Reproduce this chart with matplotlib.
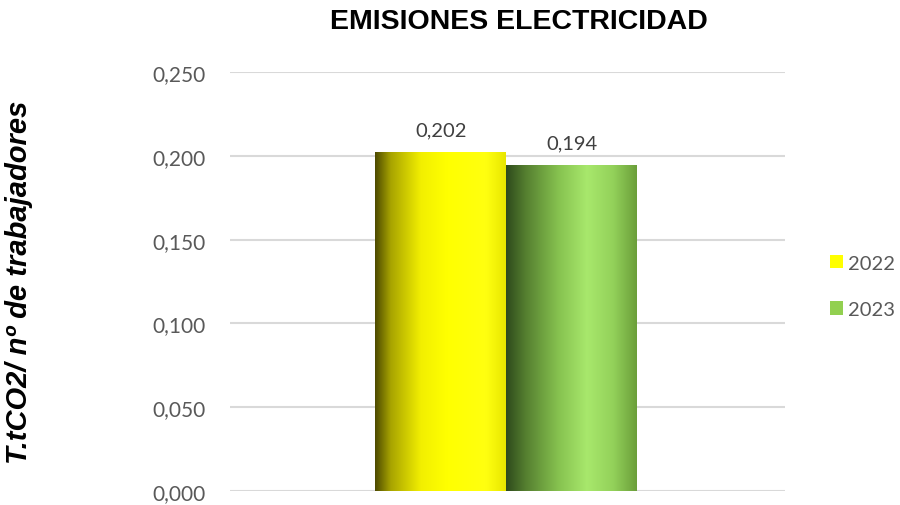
import matplotlib

matplotlib.use("Agg")
import matplotlib.pyplot as plt
import numpy as np
from matplotlib.colors import LinearSegmentedColormap
from matplotlib.patches import Patch

years = ["2022", "2023"]
values = [0.202, 0.194]
value_labels = ["0,202", "0,194"]
yticks = [0.0, 0.05, 0.10, 0.15, 0.20, 0.25]
ytick_labels = ["0,000", "0,050", "0,100", "0,150", "0,200", "0,250"]

GRADIENTS = {
    "2022": [(0.0, "#4d4a00"), (0.12, "#a8a400"), (0.35, "#f2ef00"), (0.55, "#ffff00"),
             (0.85, "#ffff10"), (1.0, "#e8e600")],
    "2023": [(0.0, "#2e4a1c"), (0.15, "#557f30"), (0.4, "#86c24f"), (0.62, "#a8e86c"),
             (0.82, "#93d15a"), (1.0, "#6b9f3a")],
}
LEGEND_COLORS = {"2022": "#ffff00", "2023": "#92d050"}

plt.rcParams.update({"font.family": ["Lato", "DejaVu Sans"]})

fig = plt.figure(figsize=(9, 5.06), dpi=100)
ax = fig.add_axes([0.2556, 0.0277, 0.6167, 0.828])

width = 0.472
offsets = [-width / 2 - 0.005, width / 2 - 0.005]
for year, val, lab, off in zip(years, values, value_labels, offsets):
    bar = ax.bar(off, val, width=width, color="none", zorder=3)[0]
    x0, y0 = bar.get_x(), bar.get_y()
    x1, y1 = x0 + bar.get_width(), y0 + bar.get_height()
    cmap = LinearSegmentedColormap.from_list(year, GRADIENTS[year])
    grad = np.linspace(0, 1, 256).reshape(1, -1)
    ax.imshow(grad, cmap=cmap, extent=[x0, x1, y0, y1], aspect="auto", zorder=3)
    ax.text(off, val + 0.0085, lab, ha="center", va="bottom", fontsize=14.5,
            color="#404040", zorder=4)

ax.set_xlim(-1, 1)
ax.set_ylim(0, 0.25)
ax.set_yticks(yticks)
ax.set_yticklabels(ytick_labels)
ax.set_xticks([])
ax.tick_params(axis="y", length=0, labelsize=15, labelcolor="#595959", pad=17.5)
ax.grid(axis="y", color="#d9d9d9", linewidth=1.5, zorder=0)
for s in ax.spines.values():
    s.set_visible(False)

fig.text(0.577, 0.957, "EMISIONES ELECTRICIDAD", ha="center", va="center",
         fontsize=20.5, fontweight="bold", color="#000000", family="Liberation Sans")
fig.text(0.021, 0.443, "T.tCO2/ nº de trabajadores", rotation=90, ha="center",
         va="center", fontsize=21, fontweight="bold", style="italic", color="#000000",
         family="Liberation Sans")

handles = [Patch(facecolor=LEGEND_COLORS[y], edgecolor="none", label=y) for y in years]
fig.legend(handles=handles, loc="center left", bbox_to_anchor=(0.902, 0.432),
           frameon=False, fontsize=14.5, handlelength=0.65, handleheight=0.65,
           handletextpad=0.25, labelspacing=1.45, labelcolor="#595959")

fig.savefig("out.png", dpi=100)
